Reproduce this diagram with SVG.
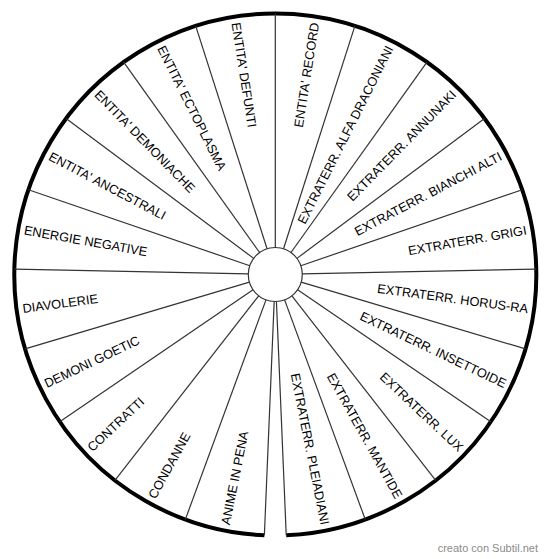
<svg xmlns="http://www.w3.org/2000/svg" width="550" height="559" viewBox="0 0 550 559">
<style>
.rad{stroke:#333;stroke-width:1.2;fill:none}
.rim{stroke:#000;stroke-width:4;fill:none;stroke-linecap:butt}
.lbl{font-family:"Liberation Sans",Arial,sans-serif;font-size:12.8px;fill:#000}
.wm{font-family:"Liberation Sans",Arial,sans-serif;font-size:11px;fill:#8a8a8a}
</style>
<rect width="550" height="559" fill="#fff"/>
<g id="connectors">
<path class="rim" d="M286.23 535.27 A261 261 0 1 0 264.37 535.27"/>
<g class="rad">
<line x1="275.3" y1="247.5" x2="275.3" y2="13.5"/>
<line x1="275.3" y1="247.5" x2="275.3" y2="13.5" transform="rotate(17.76 275.3 274.5)"/>
<line x1="275.3" y1="247.5" x2="275.3" y2="13.5" transform="rotate(35.52 275.3 274.5)"/>
<line x1="275.3" y1="247.5" x2="275.3" y2="13.5" transform="rotate(53.28 275.3 274.5)"/>
<line x1="275.3" y1="247.5" x2="275.3" y2="13.5" transform="rotate(71.04 275.3 274.5)"/>
<line x1="275.3" y1="247.5" x2="275.3" y2="13.5" transform="rotate(88.8 275.3 274.5)"/>
<line x1="275.3" y1="247.5" x2="275.3" y2="13.5" transform="rotate(106.56 275.3 274.5)"/>
<line x1="275.3" y1="247.5" x2="275.3" y2="13.5" transform="rotate(124.32 275.3 274.5)"/>
<line x1="275.3" y1="247.5" x2="275.3" y2="13.5" transform="rotate(142.08 275.3 274.5)"/>
<line x1="275.3" y1="247.5" x2="275.3" y2="13.5" transform="rotate(159.84 275.3 274.5)"/>
<line x1="275.3" y1="247.5" x2="275.3" y2="13.5" transform="rotate(177.6 275.3 274.5)"/>
<line x1="275.3" y1="247.5" x2="275.3" y2="13.5" transform="rotate(-17.76 275.3 274.5)"/>
<line x1="275.3" y1="247.5" x2="275.3" y2="13.5" transform="rotate(-35.52 275.3 274.5)"/>
<line x1="275.3" y1="247.5" x2="275.3" y2="13.5" transform="rotate(-53.28 275.3 274.5)"/>
<line x1="275.3" y1="247.5" x2="275.3" y2="13.5" transform="rotate(-71.04 275.3 274.5)"/>
<line x1="275.3" y1="247.5" x2="275.3" y2="13.5" transform="rotate(-88.8 275.3 274.5)"/>
<line x1="275.3" y1="247.5" x2="275.3" y2="13.5" transform="rotate(-106.56 275.3 274.5)"/>
<line x1="275.3" y1="247.5" x2="275.3" y2="13.5" transform="rotate(-124.32 275.3 274.5)"/>
<line x1="275.3" y1="247.5" x2="275.3" y2="13.5" transform="rotate(-142.08 275.3 274.5)"/>
<line x1="275.3" y1="247.5" x2="275.3" y2="13.5" transform="rotate(-159.84 275.3 274.5)"/>
<line x1="275.3" y1="247.5" x2="275.3" y2="13.5" transform="rotate(-177.6 275.3 274.5)"/>
</g>
</g>
<g id="hub"><circle cx="275.3" cy="274.5" r="27" fill="#fff" stroke="#333" stroke-width="1.2"/></g>
<g id="right-labels" class="lbl" text-anchor="end">
<g id="s-r0"><text x="530.3" y="279" transform="rotate(-81.12 275.3 274.5)">ENTITA' RECORD</text></g>
<g id="s-r1"><text x="530.3" y="279" transform="rotate(-63.36 275.3 274.5)">EXTRATERR. ALFA DRACONIANI</text></g>
<g id="s-r2"><text x="530.3" y="279" transform="rotate(-45.6 275.3 274.5)">EXTRATERR. ANNUNAKI</text></g>
<g id="s-r3"><text x="530.3" y="279" transform="rotate(-27.84 275.3 274.5)">EXTRATERR. BIANCHI ALTI</text></g>
<g id="s-r4"><text x="530.3" y="279" transform="rotate(-10.08 275.3 274.5)">EXTRATERR. GRIGI</text></g>
<g id="s-r5"><text x="530.3" y="279" transform="rotate(7.68 275.3 274.5)">EXTRATERR. HORUS-RA</text></g>
<g id="s-r6"><text x="530.3" y="279" transform="rotate(25.44 275.3 274.5)">EXTRATERR. INSETTOIDE</text></g>
<g id="s-r7"><text x="530.3" y="279" transform="rotate(43.2 275.3 274.5)">EXTRATERR. LUX</text></g>
<g id="s-r8"><text x="530.3" y="279" transform="rotate(60.96 275.3 274.5)">EXTRATERR. MANTIDE</text></g>
<g id="s-r9"><text x="530.3" y="279" transform="rotate(78.72 275.3 274.5)">EXTRATERR. PLEIADIANI</text></g>
</g>
<g id="left-labels" class="lbl" text-anchor="start">
<g id="s-l0"><text x="20.3" y="279" transform="rotate(81.12 275.3 274.5)">ENTITA' DEFUNTI</text></g>
<g id="s-l1"><text x="20.3" y="279" transform="rotate(63.36 275.3 274.5)">ENTITA' ECTOPLASMA</text></g>
<g id="s-l2"><text x="20.3" y="279" transform="rotate(45.6 275.3 274.5)">ENTITA' DEMONIACHE</text></g>
<g id="s-l3"><text x="20.3" y="279" transform="rotate(27.84 275.3 274.5)">ENTITA' ANCESTRALI</text></g>
<g id="s-l4"><text x="20.3" y="279" transform="rotate(10.08 275.3 274.5)">ENERGIE NEGATIVE</text></g>
<g id="s-l5"><text x="20.3" y="279" transform="rotate(-7.68 275.3 274.5)">DIAVOLERIE</text></g>
<g id="s-l6"><text x="20.3" y="279" transform="rotate(-25.44 275.3 274.5)">DEMONI GOETIC</text></g>
<g id="s-l7"><text x="20.3" y="279" transform="rotate(-43.2 275.3 274.5)">CONTRATTI</text></g>
<g id="s-l8"><text x="20.3" y="279" transform="rotate(-60.96 275.3 274.5)">CONDANNE</text></g>
<g id="s-l9"><text x="20.3" y="279" transform="rotate(-78.72 275.3 274.5)">ANIME IN PENA</text></g>
</g>
<text class="wm" x="538" y="551.5" text-anchor="end">creato con Subtil.net</text>
</svg>
